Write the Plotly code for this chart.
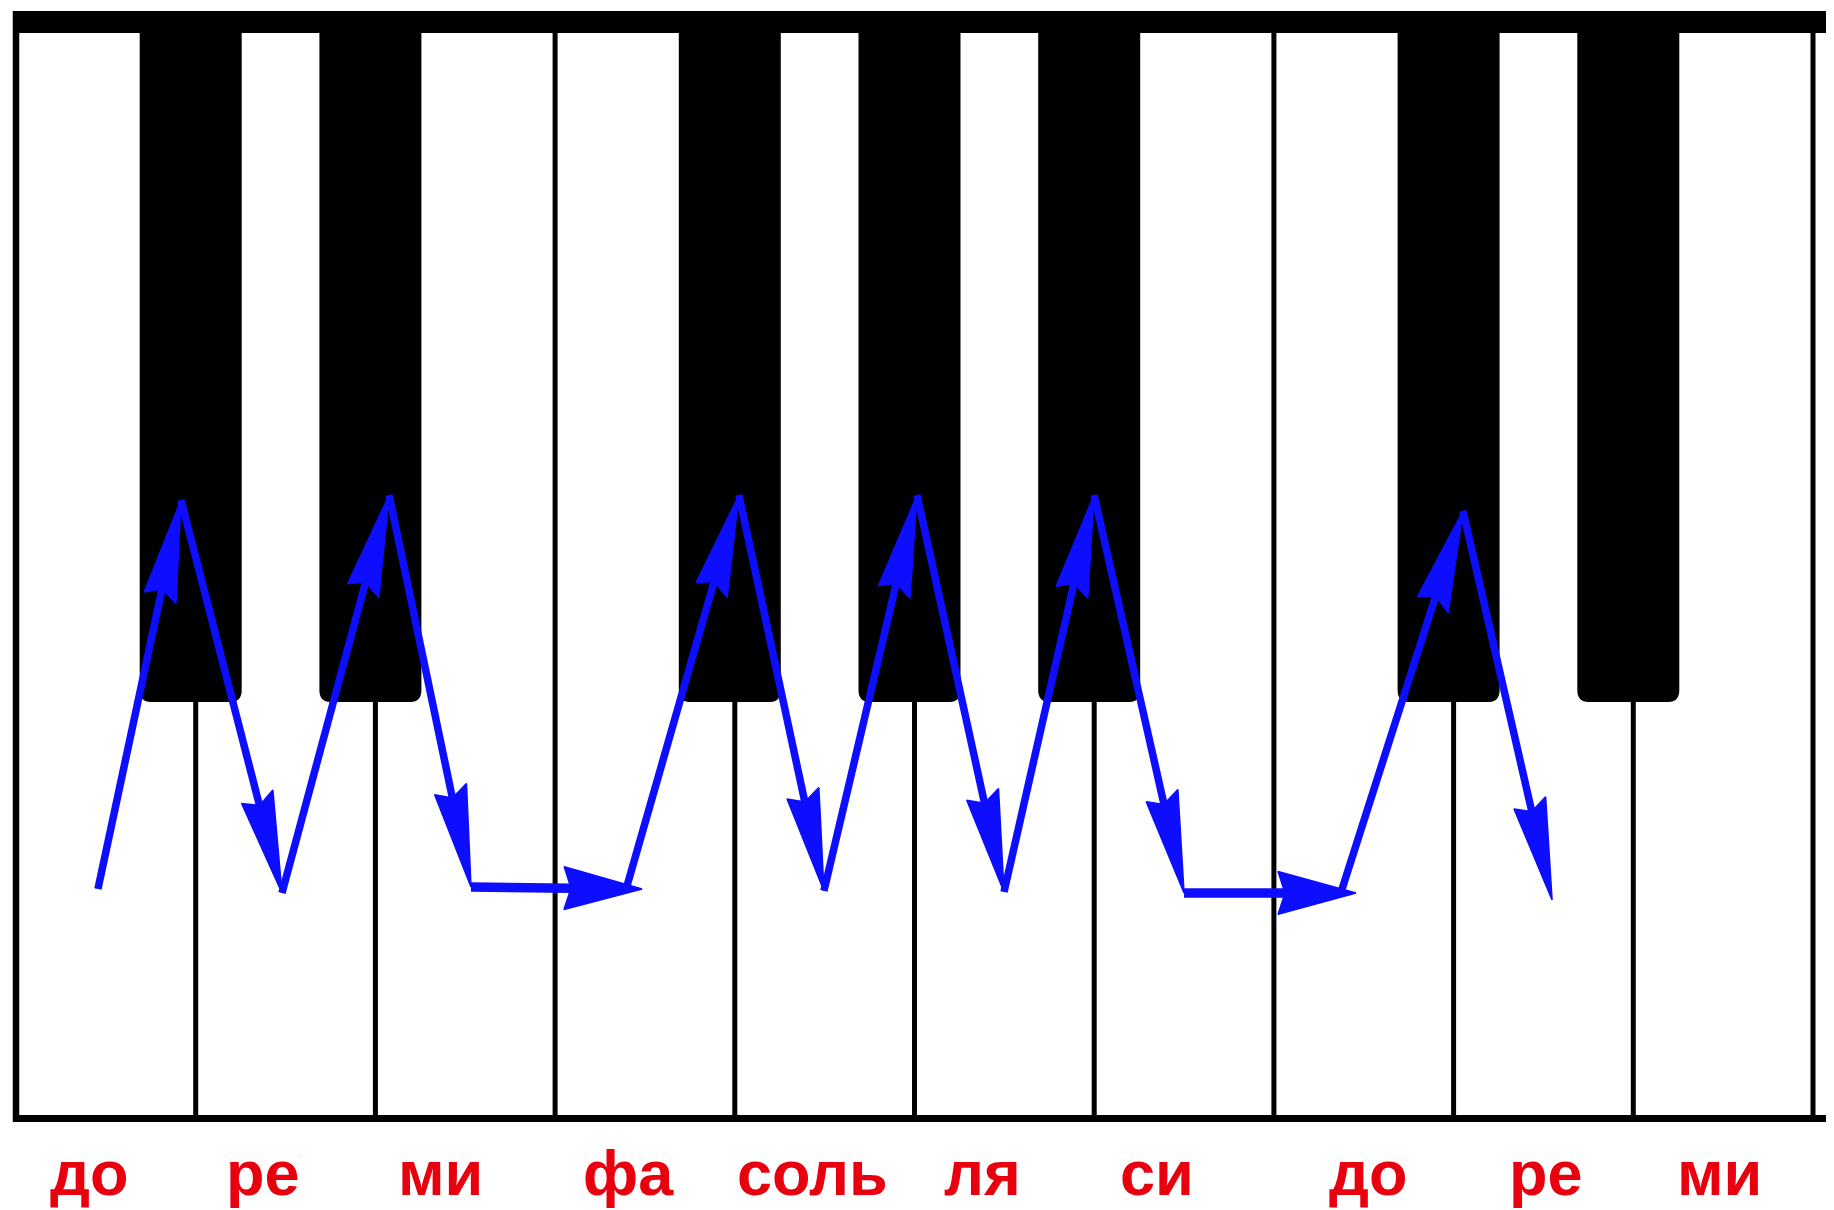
import math
import plotly.graph_objects as go

# ---------------- data ----------------
NOTE_LABELS = ["до", "ре", "ми", "фа", "соль", "ля", "си", "до", "ре", "ми"]
# label centres, in white-key units from the left edge of the first key
LABEL_X = [0.406, 1.375, 2.365, 3.411, 4.435, 5.376, 6.349, 7.524, 8.514, 9.477]

WHITE_KEY_BOUNDARIES = [1, 2, 3, 4, 5, 6, 7, 8, 9, 10]
BLACK_KEY_AFTER = [1, 2, 4, 5, 6, 8, 9]  # boundary index a black key sits on

# arrow segments (x in white-key units, y in key-length units, 0 = bottom)
ARROW_X0 = [0.456, 0.918, 1.480, 2.076, 2.532, 3.400, 4.023, 4.496, 5.014, 5.498, 5.999, 6.500, 7.379, 8.052]
ARROW_Y0 = [0.2114, 0.5698, 0.2078, 0.5744, 0.2132, 0.2142, 0.5744, 0.2096, 0.5744, 0.2087, 0.5744, 0.2078, 0.2114, 0.5597]
ARROW_X1 = [0.918, 1.480, 2.076, 2.532, 3.484, 4.023, 4.496, 5.014, 5.498, 5.999, 6.500, 7.457, 8.052, 8.548]
ARROW_Y1 = [0.5698, 0.2078, 0.5744, 0.2132, 0.2114, 0.5744, 0.2096, 0.5744, 0.2087, 0.5744, 0.2078, 0.2078, 0.5597, 0.2013]

# ---------------- geometry / style ----------------
W, H = 1834, 1210
OFFSET = 8                   # page body margin around the figure
X0_PX, KW = 16.0, 179.7      # left edge of keyboard (page px), white key width (px)
Y0_PX, KH = 1118.5, 1085.5   # bottom of keys (page px), key length (px)
XR = [(OFFSET - X0_PX) / KW, (OFFSET + W - X0_PX) / KW]
YR = [(Y0_PX - OFFSET - H) / KH, (Y0_PX - OFFSET) / KH]

BAR_TOP = (Y0_PX - 11) / KH
BK_LEFT, BK_RIGHT = 56 / KW, 46 / KW
BK_BOTTOM = (Y0_PX - 702) / KH
RX, RY = 11 / KW, 12 / KH
LABEL_Y = (Y0_PX - 1173) / KH

BLUE = "#0d0dff"
RED = "#e8000f"
STRETCH = 1.3
HEAD_L, HEAD_HW, HEAD_N = 78.0, 16.5, 7.0

shapes = []
# dividing lines between white keys
for b in WHITE_KEY_BOUNDARIES:
    shapes.append(dict(type="line", xref="x", yref="y", x0=b, x1=b, y0=0, y1=1,
                       line=dict(color="black", width=5), layer="below"))
# left outer edge
shapes.append(dict(type="line", xref="x", yref="y", x0=0, x1=0, y0=-3 / KH, y1=BAR_TOP,
                   line=dict(color="black", width=6.5), layer="below"))
# bottom line
shapes.append(dict(type="line", xref="x", yref="y", x0=-3 / KW, x1=XR[1], y0=0, y1=0,
                   line=dict(color="black", width=7), layer="below"))
# top bar
shapes.append(dict(type="rect", xref="x", yref="y", x0=-3 / KW, x1=XR[1], y0=1, y1=BAR_TOP,
                   fillcolor="black", line=dict(width=0), layer="below"))
# black keys with rounded lower corners
for b in BLACK_KEY_AFTER:
    x0, x1 = b - BK_LEFT, b + BK_RIGHT
    yb = BK_BOTTOM
    path = (f"M {x0},{1.001} L {x0},{yb + RY} Q {x0},{yb} {x0 + RX},{yb} "
            f"L {x1 - RX},{yb} Q {x1},{yb} {x1},{yb + RY} L {x1},{1.001} Z")
    shapes.append(dict(type="path", xref="x", yref="y", path=path,
                       fillcolor="black", line=dict(width=0), layer="below"))

fig = go.Figure()


def arrow_parts(x0, y0, x1, y1):
    ax, ay = x0 * KW, y0 * KH / STRETCH
    bx, by = x1 * KW, y1 * KH / STRETCH
    dx, dy = bx - ax, by - ay
    ln = math.hypot(dx, dy)
    ux, uy = dx / ln, dy / ln
    px, py = -uy, ux
    cx, cy = bx - ux * HEAD_L, by - uy * HEAD_L
    lx, ly = cx + px * HEAD_HW, cy + py * HEAD_HW
    rx, ry = cx - px * HEAD_HW, cy - py * HEAD_HW
    nx, ny = bx - ux * (HEAD_L - HEAD_N), by - uy * (HEAD_L - HEAD_N)

    def back(x, y):
        return x / KW, y * STRETCH / KH

    pts = [back(bx, by), back(lx, ly), back(nx, ny), back(rx, ry), back(bx, by)]
    return pts, back(nx, ny), abs(ux) > 0.95


for x0, y0, x1, y1 in zip(ARROW_X0, ARROW_Y0, ARROW_X1, ARROW_Y1):
    pts, notch, horiz = arrow_parts(x0, y0, x1, y1)
    fig.add_trace(go.Scatter(x=[x0, notch[0]], y=[y0, notch[1]], mode="lines",
                             line=dict(color=BLUE, width=9.5 if horiz else 7.5),
                             hoverinfo="skip", showlegend=False))
    fig.add_trace(go.Scatter(x=[p[0] for p in pts], y=[p[1] for p in pts], mode="lines",
                             fill="toself", fillcolor=BLUE, line=dict(color=BLUE, width=1.5),
                             hoverinfo="skip", showlegend=False))

annotations = []
for name, lx in zip(NOTE_LABELS, LABEL_X):
    annotations.append(dict(x=lx, y=LABEL_Y, xref="x", yref="y", text=name, showarrow=False,
                            xanchor="center", yanchor="middle",
                            font=dict(family="Liberation Sans, Arial, sans-serif", size=63,
                                      color=RED, weight="bold")))

fig.update_layout(
    width=W, height=H,
    margin=dict(l=0, r=0, t=0, b=0),
    paper_bgcolor="white", plot_bgcolor="white",
    xaxis=dict(range=XR, visible=False, fixedrange=True),
    yaxis=dict(range=YR, visible=False, fixedrange=True),
    shapes=shapes, annotations=annotations,
    showlegend=False,
)
fig.write_html("out.html")
